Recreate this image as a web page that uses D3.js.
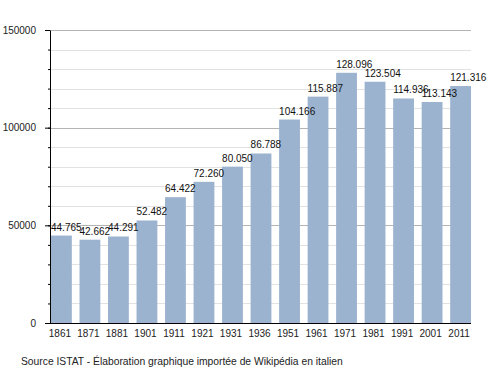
<!DOCTYPE html>
<html>
<head>
<meta charset="utf-8">
<script src="https://cdn.jsdelivr.net/npm/d3@7"></script>
<style>
    body { margin: 0; background: #fff; }
    svg { display: block; font-family: "Liberation Sans", Arial, sans-serif; }
    .axis path, .axis line { stroke: #000; }
    .axis text { font-size: 10px; fill: #222; }
</style>
</head>
<body>
<div id="chart"></div>
<script>
// Population by census year
const years = ["1861", "1871", "1881", "1901", "1911", "1921", "1931", "1936",
    "1951", "1961", "1971", "1981", "1991", "2001", "2011"];
const population = [44765, 42662, 44291, 52482, 64422, 72260, 80050, 86788,
    104166, 115887, 128096, 123504, 114936, 113143, 121316];
const majorTicks = [0, 50000, 100000, 150000];
const minorTicks = d3.range(0, 150001, 10000);
const sourceText = "Source ISTAT - Élaboration graphique importée de Wikipédia en italien";

let container_width = 500, container_height = 373;
let margin = { top: 30, left: 50, bottom: 50, right: 29 };
let width = container_width - margin.left - margin.right;
let height = container_height - margin.top - margin.bottom;

let svg = d3.select("#chart")
    .append("svg")
    .attr("width", container_width)
    .attr("height", container_height);

let g = svg.append("g")
    .attr("transform", `translate(${margin.left}, ${margin.top})`);

/* Scales */
let xScale = d3.scaleBand()
    .domain(years)
    .range([1, width])
    .paddingInner(0.27)
    .paddingOuter(0);

let yScale = d3.scaleLinear()
    .domain([0, 150000])
    .range([height, 0]);

// dotted thousands, as in the original
let valueFormat = d3.formatLocale({ decimal: ",", thousands: ".", grouping: [3], currency: ["", "€"] })
    .format(",d");

/* Gridlines */
g.append("g")
    .selectAll("line")
    .data(minorTicks.filter(d => d % 50000 !== 0))
    .enter()
    .append("line")
    .attr("x1", 0).attr("x2", width)
    .attr("y1", d => Math.round(yScale(d)) + 0.5)
    .attr("y2", d => Math.round(yScale(d)) + 0.5)
    .attr("stroke", "#e2e2e2");

g.append("g")
    .selectAll("line")
    .data(majorTicks.filter(d => d > 0))
    .enter()
    .append("line")
    .attr("x1", 0).attr("x2", width)
    .attr("y1", d => Math.round(yScale(d)) + 0.5)
    .attr("y2", d => Math.round(yScale(d)) + 0.5)
    .attr("stroke", "#b4b4b4");

/* Bars */
g.selectAll(".bar")
    .data(population)
    .enter()
    .append("rect")
    .attr("class", "bar")
    .attr("x", (d, i) => xScale(years[i]))
    .attr("y", d => yScale(d))
    .attr("width", xScale.bandwidth())
    .attr("height", d => height - yScale(d))
    .attr("fill", "#9bb3cf");

/* Value labels */
g.selectAll(".value")
    .data(population)
    .enter()
    .append("text")
    .attr("class", "value")
    .attr("x", (d, i) => xScale(years[i]))
    .attr("y", d => yScale(d) - 5)
    .attr("font-size", "10px")
    .attr("fill", "#111")
    .text(d => valueFormat(d));

/* Axes */
g.append("g")
    .attr("class", "axis")
    .call(d3.axisLeft(yScale).tickValues(minorTicks).tickSize(2).tickFormat(""))
    .call(a => a.select(".domain").remove());

g.append("g")
    .attr("class", "axis")
    .call(d3.axisLeft(yScale).tickValues(majorTicks).tickSize(5).tickPadding(9).tickSizeOuter(0).tickFormat(d3.format("d")));

g.append("g")
    .attr("class", "axis")
    .attr("transform", `translate(0, ${height})`)
    .call(d3.axisBottom(xScale).tickSize(0).tickPadding(7).tickSizeOuter(0))
    .call(a => a.select(".domain").attr("d", `M0,0.5H${width}`))
    .call(a => a.selectAll("text").attr("dx", "-1.5"));

/* Source note */
svg.append("text")
    .attr("x", 21)
    .attr("y", 365)
    .attr("font-size", "10.3px")
    .attr("fill", "#222")
    .text(sourceText);
</script>
</body>
</html>
